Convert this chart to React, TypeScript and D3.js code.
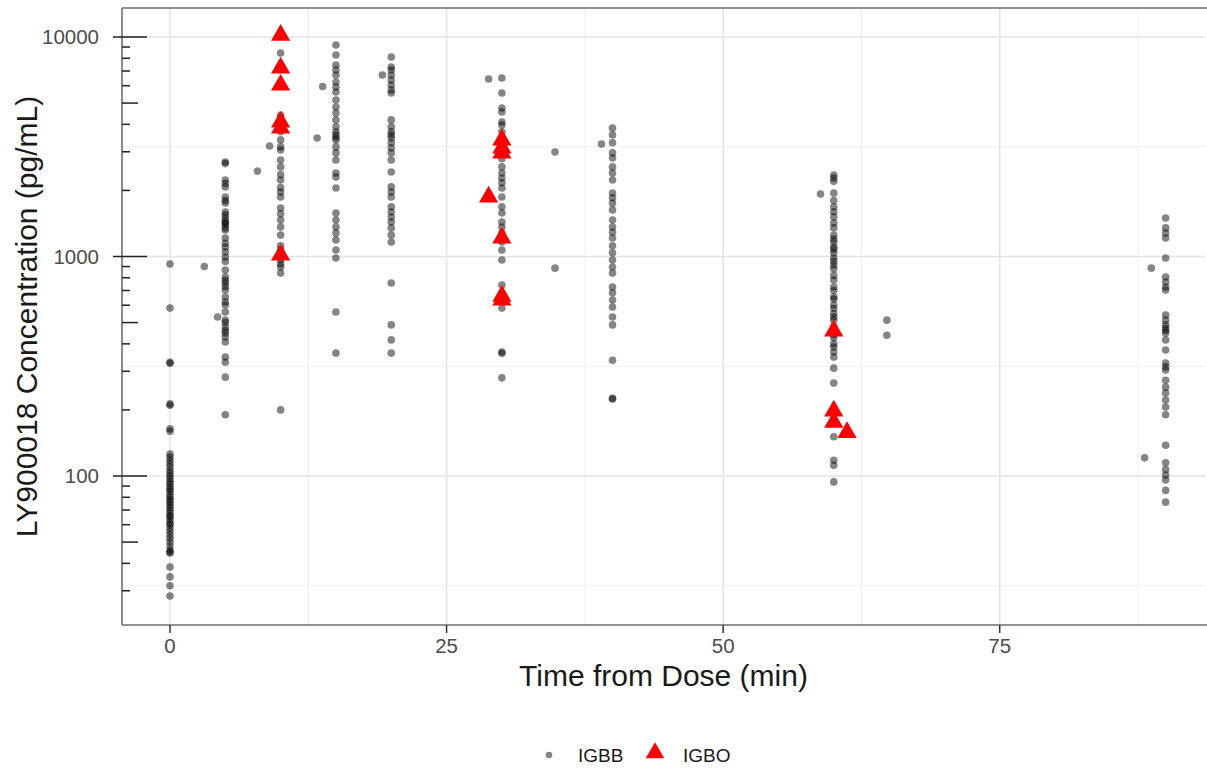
import React from "react";
import * as d3 from "d3";

// IGBB concentrations (pg/mL) at nominal sampling times
const igbb0 = [925, 582, 330, 326, 213, 210, 164, 160, 126, 122, 118, 114, 110, 106, 103, 100, 97, 94, 92, 89, 87, 85, 82, 80, 78, 76, 74, 72, 70, 68, 66, 65, 63, 61, 60, 58, 56, 54, 52, 50, 48, 46, 45, 44.6, 38.5, 34.7, 31.6, 28.4];
const igbb5 = [2695, 2650, 2232, 2150, 2075, 1868, 1800, 1754, 1596, 1550, 1497, 1450, 1421, 1400, 1350, 1321, 1215, 1150, 1105, 1050, 995, 950, 867, 807, 780, 757, 730, 704, 654, 620, 601, 559, 513, 500, 477, 460, 448, 430, 408, 348, 330, 282, 190];
const igbb10 = [8450, 5950, 4415, 4280, 4150, 4020, 3900, 3800, 3700, 3397, 3158, 3055, 2754, 2560, 2360, 2232, 2060, 1968, 1868, 1664, 1565, 1465, 1361, 1252, 1120, 1070, 964, 925, 896, 840, 200];
const igbb15 = [9196, 8280, 7450, 7070, 6710, 6240, 5920, 5620, 5164, 4800, 4505, 4190, 3900, 3700, 3580, 3480, 3397, 3158, 2965, 2754, 2400, 2300, 2050, 1578, 1465, 1361, 1280, 1190, 1070, 985, 559, 363];
const igbb20 = [8110, 7300, 7070, 6710, 6370, 6045, 5740, 5560, 4190, 3900, 3700, 3580, 3470, 3300, 3125, 2965, 2754, 2425, 2075, 1968, 1868, 1683, 1596, 1514, 1436, 1350, 1252, 1164, 757, 488, 417, 363];
const igbb30 = [6500, 5560, 4750, 4550, 4100, 3970, 3700, 3397, 3158, 2785, 2560, 2400, 2280, 2165, 2050, 1868, 1683, 1578, 1436, 1361, 1280, 1164, 1070, 964, 741, 582, 367, 362, 280];
const igbb40 = [3850, 3580, 3300, 2965, 2810, 2560, 2400, 2232, 1945, 1850, 1754, 1630, 1465, 1361, 1290, 1215, 1120, 1040, 964, 896, 840, 726, 683, 634, 589, 530, 488, 337, 226, 224];
const igbb60 = [2350, 2280, 2200, 1945, 1800, 1683, 1600, 1515, 1420, 1350, 1250, 1200, 1164, 1105, 1080, 1040, 985, 950, 915, 880, 820, 781, 726, 700, 654, 640, 601, 580, 550, 530, 513, 480, 470, 440, 426, 400, 387, 367, 348, 310, 265, 151, 118, 112, 94];
const igbb90 = [1497, 1350, 1280, 1215, 985, 807, 765, 726, 704, 541, 513, 488, 472, 460, 448, 417, 375, 327, 314, 304, 273, 254, 239, 222, 206, 190, 138, 115, 107, 101, 96, 86, 76];

const nominalTimes = [0, 5, 10, 15, 20, 30, 40, 60, 90];
const nominalGroups = [igbb0, igbb5, igbb10, igbb15, igbb20, igbb30, igbb40, igbb60, igbb90];

// IGBB samples taken off nominal time: [time (min), concentration]
const igbbOffNominal: [number, number][] = [
  [3.1, 900], [4.3, 530], [7.9, 2450], [9.0, 3185], [13.3, 3467], [13.8, 5950],
  [19.2, 6710], [28.8, 6440], [34.8, 2995], [34.8, 885], [39.0, 3253], [58.8, 1926],
  [64.8, 513], [64.8, 438], [88.7, 885], [88.1, 121],
];

// IGBO samples: [time (min), concentration]
const igbo: [number, number][] = [
  [10, 10200], [10, 7230], [10, 6045], [10, 4100], [10, 3850], [10, 1016],
  [28.8, 1870], [30, 3397], [30, 3125], [30, 2965], [30, 1215], [30, 660], [30, 634],
  [60, 458], [60, 198], [60, 176], [61.2, 158],
];

const xTicks = [0, 25, 50, 75];
const xMinor = [12.5, 37.5, 62.5, 87.5];
const yTicks = [100, 1000, 10000];
const yMinorGrid = [31.62, 316.2, 3162];
const legendLabels = ["IGBB", "IGBO"];

const W = 1207;
const H = 770;
const FONT = "'Liberation Sans', Arial, Helvetica, sans-serif";

export default function App() {
  const x = d3.scaleLinear().domain([0, 87.5]).range([170, 1138]);
  const y = d3.scaleLog().domain([100, 10000]).range([476, 37]);
  const left = 122;
  const right = 1205;
  const top = 8;
  const bottom = 625;

  const yMinVal = y.invert(bottom);
  const yMaxVal = y.invert(top);

  const logTicks: { v: number; k: number }[] = [];
  for (let d = 1; d <= 4; d++) {
    for (let k = 1; k <= 9; k++) {
      const v = k * Math.pow(10, d);
      if (v >= yMinVal && v <= yMaxVal) logTicks.push({ v, k });
    }
  }

  const greyPts: [number, number][] = [];
  nominalGroups.forEach((g, i) => g.forEach((v) => greyPts.push([nominalTimes[i], v])));
  igbbOffNominal.forEach((p) => greyPts.push(p));

  const tri = d3.symbol().type(d3.symbolTriangle).size(160)();
  const triLegend = d3.symbol().type(d3.symbolTriangle).size(150)();

  return (
    <svg width={W} height={H} style={{ position: "absolute", left: 0, top: 0, background: "#fff" }}>
      <rect x={0} y={0} width={W} height={H} fill="#fff" />
      {/* grid */}
      {xMinor.map((t) => (
        <line key={"xm" + t} x1={x(t)} x2={x(t)} y1={top} y2={bottom} stroke="#efefef" strokeWidth={1} />
      ))}
      {yMinorGrid.map((t) => (
        <line key={"ym" + t} x1={left} x2={right} y1={y(t)} y2={y(t)} stroke="#efefef" strokeWidth={1} />
      ))}
      {xTicks.map((t) => (
        <line key={"xg" + t} x1={x(t)} x2={x(t)} y1={top} y2={bottom} stroke="#e4e4e4" strokeWidth={1.5} />
      ))}
      {yTicks.map((t) => (
        <line key={"yg" + t} x1={left} x2={right} y1={y(t)} y2={y(t)} stroke="#e4e4e4" strokeWidth={1.5} />
      ))}
      {/* points */}
      {greyPts.map(([t, v], i) => (
        <circle key={"g" + i} cx={x(t)} cy={y(v)} r={3.8} fill="#000" fillOpacity={0.48} />
      ))}
      {igbo.map(([t, v], i) => (
        <path key={"r" + i} d={tri as string} transform={`translate(${x(t)},${y(v)})`} fill="#ff0000" />
      ))}
      {/* panel border */}
      <line x1={left} x2={right + 2} y1={top} y2={top} stroke="#6e6e6e" strokeWidth={1.6} />
      <line x1={left} x2={left} y1={top} y2={bottom} stroke="#6e6e6e" strokeWidth={1.6} />
      <line x1={left} x2={right + 2} y1={bottom} y2={bottom} stroke="#6e6e6e" strokeWidth={1.6} />
      {/* y ticks */}
      {logTicks.map(({ v, k }) => {
        const len = k === 1 ? 25 : k === 5 ? 16 : 8;
        return <line key={"lt" + v} x1={left} x2={left + len} y1={y(v)} y2={y(v)} stroke="#222" strokeWidth={1.5} />;
      })}
      {yTicks.map((t) => (
        <g key={"yt" + t}>
          <line x1={left - 9} x2={left} y1={y(t)} y2={y(t)} stroke="#222" strokeWidth={1.5} />
          <text x={99} y={y(t)} dy="0.36em" textAnchor="end" fontFamily={FONT} fontSize={20.5} fill="#4d4d4d">
            {t}
          </text>
        </g>
      ))}
      {/* x ticks */}
      {xTicks.map((t) => (
        <g key={"xt" + t}>
          <line x1={x(t)} x2={x(t)} y1={bottom} y2={bottom + 8} stroke="#333" strokeWidth={1.5} />
          <text x={x(t)} y={653} textAnchor="middle" fontFamily={FONT} fontSize={20.5} fill="#4d4d4d">
            {t}
          </text>
        </g>
      ))}
      {/* axis titles */}
      <text x={(left + right) / 2} y={686} textAnchor="middle" fontFamily={FONT} fontSize={30} fill="#1a1a1a">
        Time from Dose (min)
      </text>
      <text transform={`translate(37,${(top + bottom) / 2}) rotate(-90)`} textAnchor="middle" fontFamily={FONT} fontSize={30} fill="#1a1a1a">
        LY900018 Concentration (pg/mL)
      </text>
      {/* legend */}
      <circle cx={549} cy={755} r={3.3} fill="#000" fillOpacity={0.48} />
      <text x={578} y={762} fontFamily={FONT} fontSize={19} fill="#1a1a1a">{legendLabels[0]}</text>
      <path d={triLegend as string} transform="translate(655,753)" fill="#ff0000" />
      <text x={683} y={762} fontFamily={FONT} fontSize={19} fill="#1a1a1a">{legendLabels[1]}</text>
    </svg>
  );
}
